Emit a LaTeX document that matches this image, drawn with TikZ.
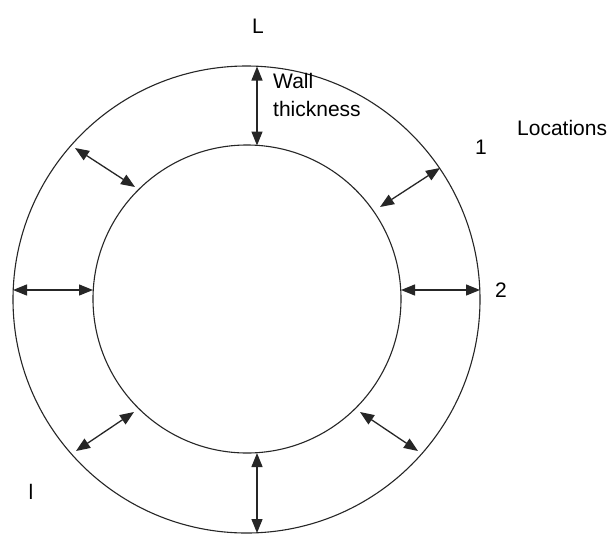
\documentclass[tikz,border=0pt]{standalone}
\usepackage{fontspec}
\setmainfont{Liberation Sans}
\usetikzlibrary{arrows.meta}
\begin{document}
\begin{tikzpicture}[x=1pt,y=-1pt,
  ring/.style={draw=black!85, line width=1.1pt},
  dim/.style={draw=black!85, line width=1.3pt, {Triangle[length=14pt,width=11pt]}-{Triangle[length=14pt,width=11pt]}},
  lbl/.style={font=\fontsize{21}{25}\selectfont, inner sep=0pt}]
\useasboundingbox (0,0) rectangle (612,536);
\fill[white] (0,0) rectangle (612,536);
\node[ring, circle, minimum size=467pt, inner sep=0pt] (outer) at (246.5,299.5) {};
\node[ring, circle, minimum size=308pt, inner sep=0pt] (inner) at (247,299) {};
% coordinates on circles
\coordinate (t1) at (257,66.5);
\coordinate (t2) at (257,145.5);
\coordinate (b1) at (257,453);
\coordinate (b2) at (257,533);
\coordinate (l1) at (13,290);
\coordinate (l2) at (93,290);
\coordinate (r1) at (401,290);
\coordinate (r2) at (480,290);
\coordinate (ur1) at (380,207);
\coordinate (ur2) at (440,168);
\coordinate (ul1) at (75,148);
\coordinate (ul2) at (135,187);
\coordinate (ll1) at (76,451);
\coordinate (ll2) at (134,412);
\coordinate (lr1) at (360,412);
\coordinate (lr2) at (418,451);
\draw[dim] (t1) -- (t2);
\draw[dim] (b1) -- (b2);
\draw[dim] (l1) -- (l2);
\draw[dim] (r1) -- (r2);
\draw[dim] (ur1) -- (ur2);
\draw[dim] (ul1) -- (ul2);
\draw[dim] (ll1) -- (ll2);
\draw[dim] (lr1) -- (lr2);
\node[lbl] (L) at (258,26) {L};
\node[lbl, anchor=north west, align=left, font=\fontsize{21}{28}\selectfont] (wall) at (273,73) {Wall\\thickness};
\node[lbl] (one) at (481,147) {1};
\node[lbl, anchor=west] (loc) at (517,128) {Locations};
\node[lbl] (two) at (501,290) {2};
\node[lbl] (ell) at (31,492) {l};
\end{tikzpicture}
\end{document}
